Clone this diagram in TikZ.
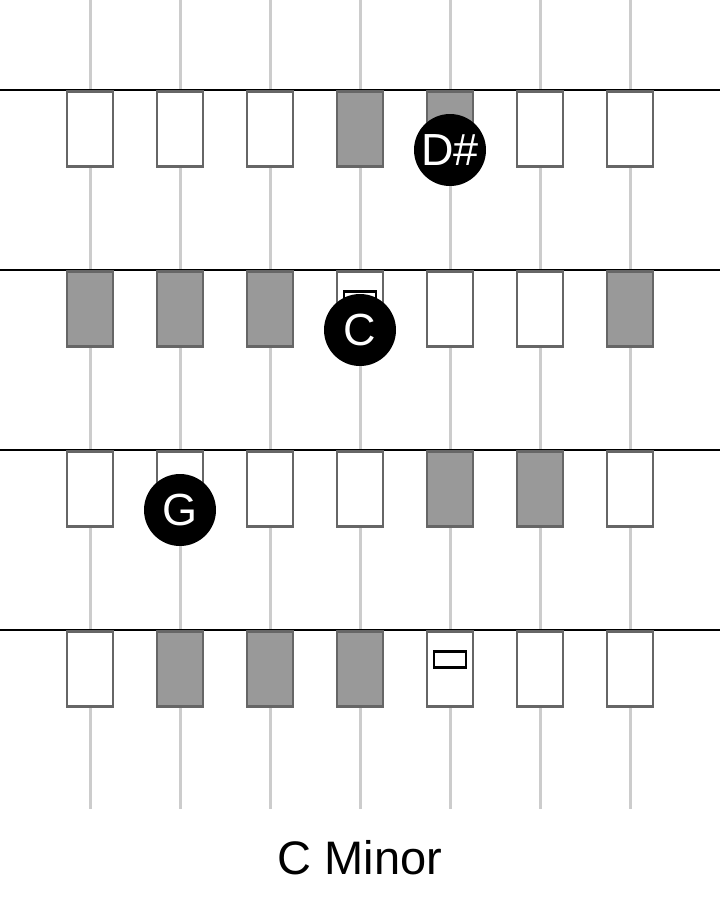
\documentclass[tikz,border=0pt]{standalone}
\usepackage{fontspec}
\setmainfont{Liberation Sans}
\definecolor{keyborder}{HTML}{666666}
\definecolor{keygray}{HTML}{999999}
\definecolor{stringgray}{HTML}{CCCCCC}
\begin{document}
\begin{tikzpicture}[x=1pt,y=-1pt,
  stringline/.style={draw=stringgray,line width=3pt},
  rowline/.style={draw=black,line width=2.2pt},
  keybox/.style={draw=keyborder,line width=2.8pt,minimum width=46pt,minimum height=75pt,inner sep=0pt,anchor=north},
  whitekey/.style={keybox,fill=white},
  graykey/.style={keybox,fill=keygray},
  marker/.style={draw=black,fill=white,line width=2.5pt,minimum width=32pt,minimum height=16pt,inner sep=0pt,anchor=north},
  notedot/.style={circle,fill=black,text=white,minimum size=72pt,inner sep=0pt,font=\fontsize{45}{45}\selectfont},
  titletext/.style={font=\fontsize{47}{47}\selectfont}]
\useasboundingbox (0,0) rectangle (720,900);
% strings
\foreach \i/\x in {1/90,2/180,3/270,4/360,5/450,6/540,7/630}{
  \coordinate (st\i) at (\x,0);
  \coordinate (sb\i) at (\x,809);
  \draw[stringline] (st\i) -- (sb\i);
}
% row lines
\foreach \r/\y in {1/90,2/270,3/450,4/630}{
  \coordinate (rl\r) at (0,\y);
  \coordinate (rr\r) at (720,\y);
  \draw[rowline] (rl\r) -- (rr\r);
}
% row 1
\foreach \i/\x/\s in {1/90/whitekey,2/180/whitekey,3/270/whitekey,4/360/graykey,5/450/graykey,6/540/whitekey,7/630/whitekey}{
  \node[\s] (k1\i) at (\x,90) {};
}
% row 2
\foreach \i/\x/\s in {1/90/graykey,2/180/graykey,3/270/graykey,4/360/whitekey,5/450/whitekey,6/540/whitekey,7/630/graykey}{
  \node[\s] (k2\i) at (\x,270) {};
}
% row 3
\foreach \i/\x/\s in {1/90/whitekey,2/180/whitekey,3/270/whitekey,4/360/whitekey,5/450/graykey,6/540/graykey,7/630/whitekey}{
  \node[\s] (k3\i) at (\x,450) {};
}
% row 4
\foreach \i/\x/\s in {1/90/whitekey,2/180/graykey,3/270/graykey,4/360/graykey,5/450/whitekey,6/540/whitekey,7/630/whitekey}{
  \node[\s] (k4\i) at (\x,630) {};
}
% markers
\node[marker] (m2) at (360,290) {};
\node[marker] (m4) at (450,650) {};
% note dots
\node[notedot] (dsharp) at (450,150) {D\#};
\node[notedot] (cnote) at (360,330) {C};
\node[notedot] (gnote) at (180,510) {G};
% title
\node[titletext] (title) at (360,858) {C Minor};
\end{tikzpicture}
\end{document}
